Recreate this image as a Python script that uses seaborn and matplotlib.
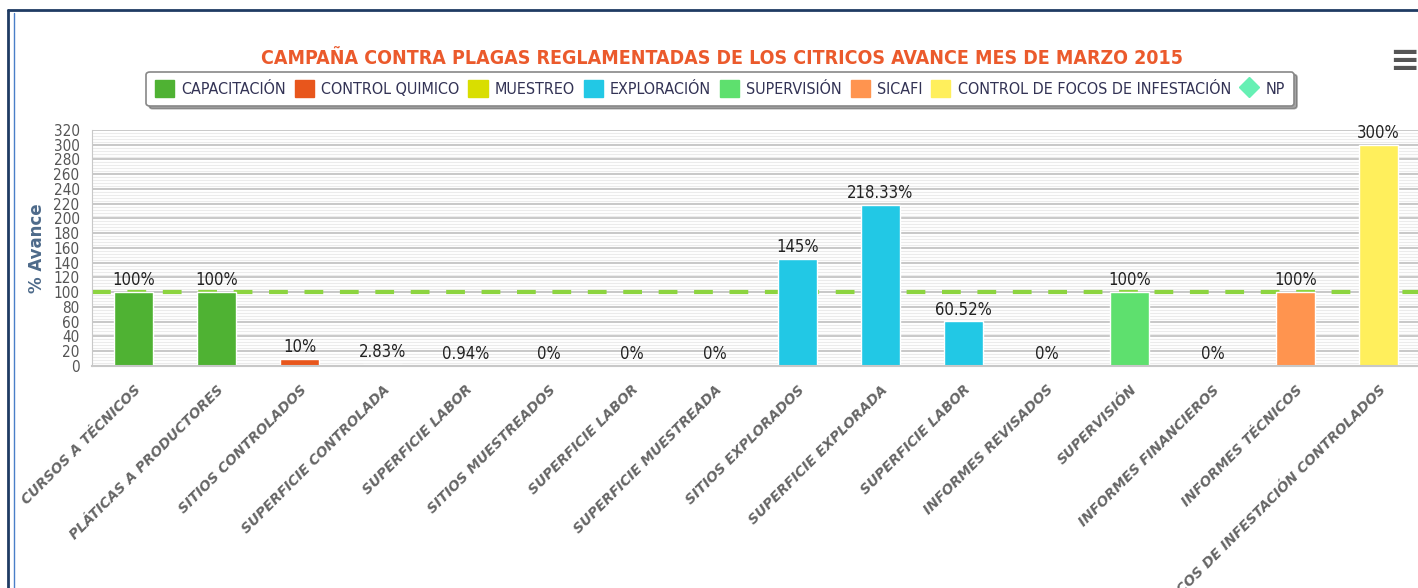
import numpy as np
import pandas as pd
import matplotlib
matplotlib.use("Agg")
import matplotlib.pyplot as plt
from matplotlib.lines import Line2D
from matplotlib.patches import Patch
import seaborn as sns

categories = ["CURSOS A TÉCNICOS", "PLÁTICAS A PRODUCTORES", "SITIOS CONTROLADOS",
              "SUPERFICIE CONTROLADA", "SUPERFICIE LABOR", "SITIOS MUESTREADOS",
              "SUPERFICIE LABOR", "SUPERFICIE MUESTREADA", "SITIOS EXPLORADOS",
              "SUPERFICIE EXPLORADA", "SUPERFICIE LABOR", "INFORMES REVISADOS",
              "SUPERVISIÓN", "INFORMES FINANCIEROS", "INFORMES TÉCNICOS",
              "CONTROL DE FOCOS DE INFESTACIÓN CONTROLADOS"]
values = [100, 100, 10, 2.83, 0.94, 0, 0, 0, 145, 218.33, 60.52, 0, 100, 0, 100, 300]
groups = ["CAPACITACIÓN", "CAPACITACIÓN", "CONTROL QUIMICO", "CONTROL QUIMICO",
          "CONTROL QUIMICO", "MUESTREO", "MUESTREO", "MUESTREO", "EXPLORACIÓN",
          "EXPLORACIÓN", "EXPLORACIÓN", "SUPERVISIÓN", "SUPERVISIÓN", "SICAFI",
          "SICAFI", "CONTROL DE FOCOS DE INFESTACIÓN"]
series = ["CAPACITACIÓN", "CONTROL QUIMICO", "MUESTREO", "EXPLORACIÓN",
          "SUPERVISIÓN", "SICAFI", "CONTROL DE FOCOS DE INFESTACIÓN"]
colors = ["#4FB233", "#E8561C", "#D9DE00", "#22C8E5", "#5EE06E", "#FF944F", "#FFEF5C"]
goal = 100

df = pd.DataFrame({"pos": [str(i) for i in range(len(categories))],
                   "valor": values, "grupo": groups})
palette = dict(zip(series, colors))

sns.set_style("white")
plt.rcParams["font.family"] = ["DejaVu Sans"]
plt.rcParams["font.stretch"] = "condensed"

fig = plt.figure(figsize=(14.18, 5.88), dpi=100)
ax = fig.add_axes([0.0649, 0.3776, 0.9365, 0.4014])

# linea de meta al 100%
ax.axhline(goal, color="#8CD43F", lw=3, ls=(0, (4.5, 4)), zorder=1.5)
sns.barplot(data=df, x="pos", y="valor", hue="grupo", hue_order=series,
            palette=palette, dodge=False, width=0.47, edgecolor="white",
            linewidth=1, saturation=1, legend=False, ax=ax, zorder=2)

for cont in ax.containers:
    ax.bar_label(cont, labels=[f"{b.get_height():g}%" for b in cont],
                 padding=2, fontsize=12, color="#222222")

ax.set_ylim(0, 320)
ax.set_xlim(-0.5, len(categories) - 0.5)
ax.set_yticks(np.arange(0, 321, 20))
ax.set_yticks(np.arange(0, 321, 4), minor=True)
ax.grid(axis="y", which="minor", color="#EBEBEB", lw=0.8, zorder=0)
ax.grid(axis="y", which="major", color="#C4C4C4", lw=1.3, zorder=0)
ax.set_axisbelow(True)
ax.tick_params(axis="y", which="both", length=0, labelsize=11,
               labelcolor="#555555", pad=9)

ax.set_xticks(range(len(categories)))
ax.set_xticklabels(categories, rotation=45, ha="right", rotation_mode="anchor",
                   fontsize=10, fontweight="bold", fontstyle="italic",
                   fontstretch="normal", color="#666666")
ax.tick_params(axis="x", which="major", length=0, pad=12)
ax.set_xticks(np.arange(-0.5, len(categories), 1), minor=True)
ax.tick_params(axis="x", which="minor", length=8, width=2.5, color="#333333",
               direction="out")
ax.set_xlabel("")
ax.set_ylabel("% Avance", fontsize=12, fontweight="bold", color="#4D6A8A",
              fontstretch="normal", labelpad=5)

for s in ["top", "right"]:
    ax.spines[s].set_visible(False)
ax.spines["left"].set_color("#C8C8C8")
ax.spines["bottom"].set_color("#C8C8C8")
ax.spines["bottom"].set_linewidth(1.5)

fig.text(0.509, 0.901, "CAMPAÑA CONTRA PLAGAS REGLAMENTADAS DE LOS CITRICOS AVANCE MES DE MARZO 2015",
         ha="center", va="center", fontsize=14, fontweight="bold", color="#EB5A2C")

handles = [Patch(facecolor=c, edgecolor=c) for c in colors]
handles.append(Line2D([], [], marker="D", ls="", color="#66F0B4", markersize=10))
leg = fig.legend(handles, series + ["NP"], loc="center", bbox_to_anchor=(0.508, 0.849),
                 ncol=8, fontsize=11.5, frameon=True, fancybox=True, shadow=True,
                 handlelength=1.2, handleheight=1.2, handletextpad=0.45,
                 columnspacing=0.55, borderpad=0.55, labelcolor="#333355")
leg.get_frame().set_edgecolor("#888888")
leg.get_frame().set_linewidth(1.2)

fig.text(0.99, 0.896, "≡", ha="center", va="center", fontsize=26,
         color="#555555", fontweight="bold", fontstretch="normal")

fig.add_artist(Line2D([0.0056, 0.0056], [0, 0.983], color="#1F3B63", lw=2))
fig.add_artist(Line2D([0.0099, 0.0099], [0, 0.978], color="#4A7FC8", lw=1))
fig.add_artist(Line2D([0.0056, 1], [0.983, 0.983], color="#1F3B63", lw=2))

fig.savefig("out.png", dpi=100)
